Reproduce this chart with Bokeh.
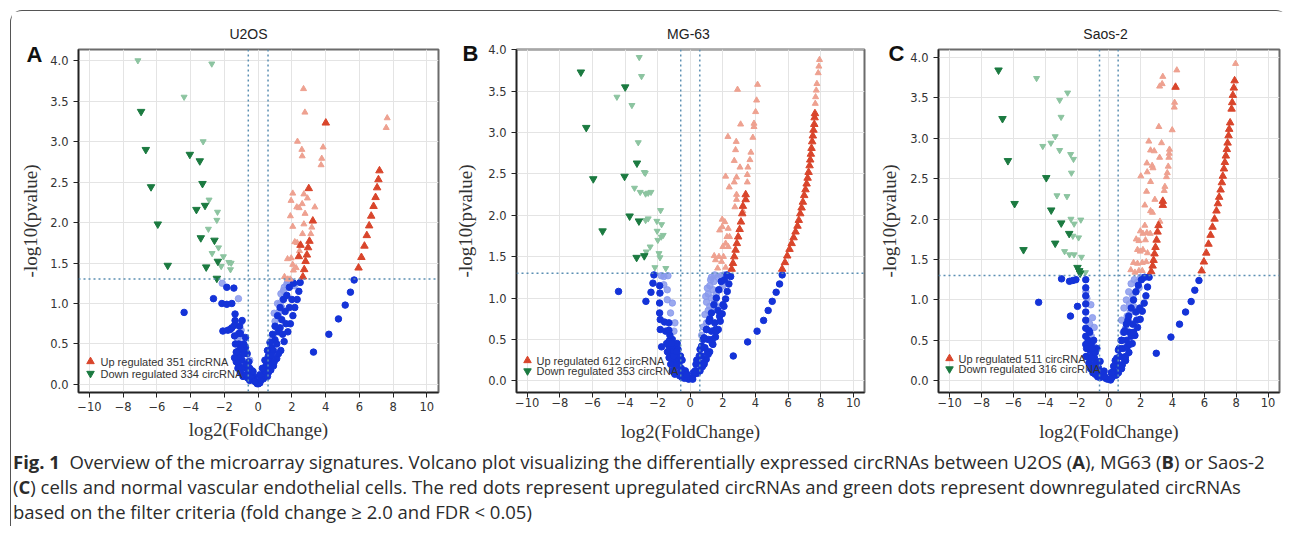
from bokeh.plotting import figure
from bokeh.models import (Span, Label, FixedTicker, PrintfTickFormatter, CustomJSTickFormatter,
                          Range1d, Div, LinearAxis)
from bokeh.layouts import row, column
from bokeh.embed import file_html
from bokeh.resources import INLINE

# ---------------- data: panel A (U2OS) ----------------
a_up_x = [5.95, 6.12, 6.30, 6.44, 6.58, 6.70, 6.84, 6.96, 7.05, 7.13, 7.19, 4.01, 3.00, 3.24, 2.51, 2.96, 2.89, 2.41, 2.81, 2.73, 2.65, 3.04]
a_up_y = [1.44, 1.57, 1.71, 1.84, 1.96, 2.08, 2.20, 2.31, 2.43, 2.53, 2.64, 3.23, 2.42, 2.02, 1.72, 1.69, 1.60, 1.58, 1.52, 1.42, 1.33, 1.77]
a_upf_x = [2.69, 2.77, 7.65, 7.59, 2.33, 2.59, 2.61, 3.85, 3.77, 3.73, 2.05, 2.71, 2.92, 1.95, 2.29, 2.43, 2.61, 3.36, 2.78, 1.91, 2.05, 2.71, 3.18, 2.63, 3.12, 2.17, 2.31, 2.45, 1.74, 1.96, 2.05, 2.25, 2.09, 1.56, 1.76, 1.90]
a_upf_y = [3.65, 3.36, 3.29, 3.17, 3.00, 2.90, 2.82, 2.93, 2.79, 2.71, 2.36, 2.35, 2.30, 2.27, 2.19, 2.18, 2.23, 2.19, 2.11, 2.08, 1.95, 1.98, 1.94, 1.86, 1.86, 1.76, 1.75, 1.65, 1.55, 1.56, 1.48, 1.44, 1.41, 1.33, 1.30, 1.30]
a_dn_x = [-6.94, -6.66, -6.35, -5.95, -5.36, -3.40, -3.08, -2.45, -3.15, -3.66, -4.05, -3.46, -3.30, -2.59, -2.39]
a_dn_y = [3.37, 2.90, 2.44, 1.98, 1.47, 1.81, 1.45, 1.31, 2.21, 2.16, 2.84, 2.76, 2.48, 1.78, 1.52]
a_dnf_x = [-7.13, -2.75, -4.39, -3.26, -2.91, -2.41, -2.45, -2.95, -2.35, -2.73, -2.06, -1.74, -1.60, -2.19, -1.64]
a_dnf_y = [4.00, 3.96, 3.55, 3.00, 2.28, 2.13, 2.03, 1.92, 1.69, 1.62, 1.58, 1.51, 1.50, 1.46, 1.42]
a_ns_x = [5.69, 5.47, 5.16, 4.76, 4.19, 3.28,
          2.49, 2.41, 2.31, 2.17, 2.06, 1.91, 1.76, 1.54, 1.34, 1.10, 0.91, 0.61, 0.31, 0.02,
          1.60, 1.40, 1.20, 1.00, 0.80, 0.60, 0.50, 0.35, 0.20, 0.90, 0.70, 1.10, 1.30,
          -1.86, -1.44, -2.65, -2.15, -1.86, -1.56, -4.39, -1.37, -1.37, -1.40, -2.09, -1.80, -1.56, -1.65,
          -1.15, -1.15, -1.15, -1.15, -1.15, -0.75, -0.75, -0.65, -0.55, -0.36, -0.22, -0.06, -0.95, -0.85, -0.45, -1.05, -0.95, -1.25, -1.30,
          -0.30, -0.15, 0.10, 0.15, 0.25, 0.40, -0.50, -0.65, -0.85, 0.45, 0.65, 0.80,
          -1.40, -1.35, -1.30, -1.40, -1.20, -1.05, -0.90, -0.75, -0.62, -0.50, -0.40, -0.30, -0.20, -1.10, -1.00, -0.85, -0.70, -0.60,
          0.10, 0.25, 0.40, 0.55, 0.70, 0.85, 1.00, 1.15, 1.30, 1.50, 1.70, 1.85, 2.10, 0.55, 0.75, 0.95, 1.20, 1.45, 1.65, 1.85, 2.00]
a_ns_y = [1.29, 1.14, 0.98, 0.81, 0.62, 0.40,
          1.26, 1.15, 1.05, 0.95, 0.85, 0.75, 0.65, 0.53, 0.42, 0.32, 0.23, 0.15, 0.07, 0.01,
          0.90, 0.80, 0.65, 0.55, 0.45, 0.35, 0.25, 0.18, 0.10, 0.42, 0.30, 0.50, 0.70,
          1.20, 1.19, 1.06, 1.00, 0.99, 1.00, 0.89, 0.87, 0.79, 0.73, 0.66, 0.67, 0.70, 0.68,
          0.63, 0.50, 0.42, 0.34, 0.23, 0.58, 0.46, 0.38, 0.28, 0.17, 0.09, 0.01, 0.30, 0.21, 0.13, 0.63, 0.79, 0.40, 0.28,
          0.06, 0.03, 0.02, 0.05, 0.11, 0.14, 0.20, 0.24, 0.38, 0.22, 0.26, 0.36,
          0.60, 0.50, 0.40, 0.33, 0.20, 0.15, 0.10, 0.12, 0.08, 0.05, 0.10, 0.16, 0.04, 0.72, 0.45, 0.50, 0.25, 0.18,
          0.12, 0.20, 0.30, 0.42, 0.52, 0.62, 0.72, 0.85, 0.95, 1.05, 1.10, 1.20, 1.25, 0.10, 0.18, 0.28, 0.38, 0.62, 0.75, 0.95, 1.05]
a_nsf_x = [-2.13, -1.17, -1.01, -1.01, -1.20, -0.90, -0.70, -0.50, -1.05,
           1.30, 1.50, 1.70, 1.90, 1.60, 1.40, 1.20, 1.10, 0.90, 1.80, 2.00, 1.45, 1.25, 0.80, 1.00,
           1.55, 1.75, 2.15, 1.35, 1.15, 0.95]
a_nsf_y = [1.25, 1.06, 0.77, 0.67, 0.55, 0.50, 0.40, 0.30, 0.60,
           1.00, 1.16, 1.24, 1.28, 1.10, 0.95, 0.85, 0.70, 0.60, 1.20, 1.25, 1.05, 0.90, 0.55, 0.78,
           1.20, 1.28, 1.22, 1.12, 1.00, 0.88]

# ---------------- data: panel B (MG-63) ----------------
b_up_x = [5.64, 5.81, 5.95, 6.09, 6.22, 6.34, 6.46, 6.58, 6.66, 6.75, 6.83, 6.91, 6.99, 7.07, 7.14, 7.20, 7.26, 7.32, 7.36, 7.40, 7.44, 7.48, 7.52, 7.56, 7.61, 7.63, 7.65,
          2.54, 2.62, 2.70, 2.78, 2.86, 2.94, 3.03, 3.11, 3.19, 3.23, 3.40, 3.40]
b_up_y = [1.35, 1.43, 1.51, 1.59, 1.66, 1.73, 1.80, 1.87, 1.94, 2.02, 2.09, 2.16, 2.24, 2.31, 2.38, 2.45, 2.52, 2.60, 2.67, 2.74, 2.81, 2.89, 2.96, 3.03, 3.10, 3.18, 3.23,
          1.35, 1.42, 1.50, 1.58, 1.66, 1.74, 1.83, 1.92, 2.02, 2.11, 2.25, 2.19]
b_upf_x = [7.67, 7.69, 7.73, 7.77, 7.85, 7.89, 7.93,
           2.90, 4.13, 4.07, 4.01, 3.91, 3.91, 3.09, 2.31, 2.82, 3.84, 2.78, 3.72, 2.70, 3.66, 3.05, 3.54, 2.17, 2.84, 3.50, 2.70, 2.39, 3.50,
           2.84, 2.84, 2.74, 3.23, 1.96, 2.12, 1.96, 2.33, 1.80, 2.25, 2.41, 2.17, 2.00, 2.33, 1.47, 1.76, 1.55, 2.04, 1.92, 1.68, 2.17]
b_upf_y = [3.35, 3.43, 3.51, 3.59, 3.72, 3.80, 3.88,
           3.52, 3.58, 3.39, 3.25, 3.11, 3.07, 3.10, 2.95, 2.89, 2.94, 2.79, 2.76, 2.66, 2.67, 2.58, 2.58, 2.47, 2.46, 2.49, 2.40, 2.34, 2.40,
           2.25, 2.19, 2.10, 2.05, 1.95, 1.92, 1.86, 1.84, 1.82, 1.74, 1.74, 1.66, 1.62, 1.62, 1.51, 1.50, 1.46, 1.50, 1.44, 1.36, 1.37]
b_dn_x = [-6.71, -6.38, -5.95, -5.38, -3.99, -4.03, -3.72, -3.15, -2.82, -3.29, -3.27]
b_dn_y = [3.73, 3.06, 2.44, 1.81, 3.55, 2.47, 1.99, 1.93, 1.51, 1.49, 2.63]
b_dnf_x = [-3.13, -2.99, -4.50, -3.58, -3.19, -2.82, -2.76, -3.42, -3.07, -2.74, -2.58, -2.41, -1.82, -2.74, -2.58, -2.05, -1.76, -2.03, -1.78, -1.66, -1.99, -2.46, -2.70, -1.92, -1.86, -2.17, -1.50]
b_dnf_y = [3.91, 3.68, 3.43, 3.33, 2.88, 2.52, 2.51, 2.33, 2.28, 2.26, 2.27, 2.28, 2.06, 1.94, 1.96, 1.93, 1.89, 1.81, 1.74, 1.76, 1.70, 1.62, 1.56, 1.54, 1.49, 1.37, 1.36]
b_ns_x = [5.64, 5.48, 5.27, 5.03, 4.78, 4.50, 4.10, 3.52, 2.64,
          2.48, 2.37, 2.27, 2.17, 2.07, 1.96, 1.84, 1.72, 1.55, 1.39, 1.19, 0.98, 0.74, 0.43, 0.08,
          1.50, 1.30, 1.10, 0.90, 0.70, 0.50, 0.30, 1.70, 1.20, 1.00, 0.80, 0.60, 0.40,
          -4.40, -2.72, -2.41, -2.23, -2.29, -1.88, -1.86, -1.88, -1.88, -1.84, -1.58, -1.31, -1.84, -1.51, -1.31, -1.76, -1.31,
          -1.10, -1.00, -0.95, -0.85, -0.70, -0.55, -0.40, -0.25, -0.10, -1.20, -1.05, -0.90, -0.60, -0.75, -1.30,
          0.15, 0.25, 0.55, 0.85, 1.05, 1.35, 1.60, -0.30, -0.50, -0.80,
          -1.45, -1.40, -1.30, -1.20, -1.10, -0.95, -0.80, -0.65, -0.50, -0.35, -0.20, -1.25, -1.00, -0.85, -1.15,
          0.20, 0.35, 0.55, 0.70, 0.85, 1.00, 1.15, 1.30, 1.45, 1.60, 1.75, 1.90, 2.10, 2.25, 0.60, 0.85, 1.10, 1.35, 1.55, 1.80, 2.00]
b_ns_y = [1.28, 1.17, 1.07, 0.96, 0.85, 0.73, 0.60, 0.47, 0.30,
          1.26, 1.17, 1.08, 0.99, 0.90, 0.81, 0.72, 0.62, 0.53, 0.44, 0.35, 0.26, 0.17, 0.09, 0.03,
          0.70, 0.60, 0.50, 0.40, 0.30, 0.22, 0.12, 0.85, 0.75, 0.62, 0.50, 0.38, 0.25,
          1.08, 0.96, 1.07, 1.28, 1.18, 1.15, 1.06, 0.94, 0.82, 0.74, 0.71, 0.70, 0.62, 0.60, 0.61, 0.41, 0.42,
          0.50, 0.40, 0.30, 0.25, 0.20, 0.15, 0.10, 0.06, 0.02, 0.35, 0.22, 0.18, 0.30, 0.38, 0.48,
          0.02, 0.08, 0.12, 0.20, 0.35, 0.45, 0.60, 0.12, 0.25, 0.45,
          0.45, 0.35, 0.28, 0.20, 0.12, 0.08, 0.10, 0.06, 0.04, 0.03, 0.08, 0.55, 0.30, 0.35, 0.45,
          0.10, 0.20, 0.30, 0.42, 0.52, 0.62, 0.72, 0.82, 0.92, 1.00, 1.10, 1.20, 1.22, 1.28, 0.12, 0.22, 0.32, 0.50, 0.62, 0.78, 0.92]
b_nsf_x = [-1.78, -1.62, -1.37, -1.62, -1.41, -1.41, -1.10, -1.21, -0.94, -1.00,
           0.90, 1.00, 1.10, 1.20, 1.30, 1.50, 1.70, 1.90, 2.10, 1.40, 1.60, 1.80, 1.20, 1.40, 1.00, 0.80, 1.60, 1.30, 1.50, 2.00, 0.70, 1.10,
           1.05, 1.25, 0.95, 1.45]
b_nsf_y = [1.27, 1.26, 1.27, 1.16, 1.10, 0.98, 0.94, 0.82, 0.70, 0.60,
           0.80, 0.95, 1.05, 1.15, 1.25, 1.28, 1.25, 1.27, 1.28, 1.10, 1.05, 1.10, 0.90, 0.85, 0.70, 0.65, 0.90, 1.00, 0.95, 1.15, 0.55, 0.85,
           1.12, 1.22, 1.02, 1.20]

# ---------------- data: panel C (Saos-2) ----------------
c_up_x = [5.83, 5.97, 6.12, 6.26, 6.39, 6.51, 6.64, 6.76, 6.85, 6.93, 7.02, 7.10, 7.16, 7.23, 7.29, 7.35, 7.41, 7.46, 7.52, 7.56, 7.62, 7.71, 7.75, 7.79, 7.85, 7.90,
          2.66, 2.75, 2.81, 2.87, 2.93, 3.00, 3.06, 3.12, 4.19, 3.39, 3.39]
c_up_y = [1.36, 1.47, 1.58, 1.69, 1.80, 1.90, 2.00, 2.10, 2.19, 2.27, 2.36, 2.45, 2.53, 2.62, 2.70, 2.78, 2.86, 2.94, 3.03, 3.11, 3.19, 3.36, 3.44, 3.53, 3.62, 3.71,
          1.35, 1.42, 1.49, 1.57, 1.65, 1.74, 1.84, 1.92, 3.63, 2.22, 2.17]
c_upf_x = [7.96, 3.21, 3.39, 3.35, 3.19, 4.27, 4.13, 4.11, 3.98, 3.14, 2.51, 2.62, 2.85, 3.31, 3.81, 3.79, 3.77, 3.19, 2.39, 2.72, 2.77, 3.73, 2.41, 3.67, 3.62, 2.01, 2.62,
           3.52, 3.48, 2.37, 2.89, 2.26, 2.62, 2.74, 2.26, 1.98, 2.14, 2.39, 2.60, 1.72, 1.89, 2.30, 1.80, 1.97, 2.14, 2.43, 1.55, 1.80, 2.10, 2.35, 1.38, 1.64, 1.89, 2.10]
c_upf_y = [3.92, 1.97, 3.76, 3.67, 3.64, 3.84, 3.44, 3.38, 3.10, 3.14, 2.96, 2.85, 2.84, 2.94, 2.86, 2.81, 2.76, 2.76, 2.69, 2.66, 2.63, 2.65, 2.58, 2.57, 2.52, 2.53, 2.46,
           2.40, 2.35, 2.34, 2.24, 2.17, 2.10, 2.08, 1.92, 1.85, 1.82, 1.83, 1.82, 1.75, 1.73, 1.74, 1.62, 1.60, 1.62, 1.58, 1.46, 1.45, 1.46, 1.47, 1.37, 1.34, 1.36, 1.36]
c_dn_x = [-6.93, -6.68, -6.34, -5.92, -5.36, -3.93, -3.62, -2.99, -2.49, -3.37, -1.97, -1.86, -1.80]
c_dn_y = [3.84, 3.24, 2.72, 2.19, 1.62, 2.51, 2.11, 1.95, 1.82, 1.70, 1.40, 1.36, 1.33]
c_dnf_x = [-4.54, -2.59, -3.09, -3.00, -3.37, -3.64, -4.15, -3.09, -2.40, -2.22, -2.35, -3.26, -2.63, -2.38, -2.18, -1.76, -2.26, -1.90, -2.78, -2.47, -2.18, -1.72, -1.47]
c_dnf_y = [3.74, 3.56, 3.47, 3.26, 3.02, 2.94, 2.90, 2.85, 2.80, 2.74, 2.57, 2.29, 2.28, 2.00, 1.94, 1.99, 1.79, 1.77, 1.60, 1.56, 1.56, 1.53, 1.34]
c_ns_x = [5.66, 5.40, 5.17, 4.82, 4.44, 3.90, 2.98,
          2.53, 2.43, 2.33, 2.22, 2.10, 1.97, 1.80, 1.64, 1.47, 1.26, 1.05, 0.80, 0.46, 0.11,
          1.50, 1.30, 1.10, 0.90, 0.70, 0.50, 0.30, 1.70, 1.20, 1.00, 0.80, 0.60, 0.40,
          -2.97, -2.47, -2.26, -2.07, -4.41, -2.41, -1.97, -1.45, -1.45, -1.45, -1.45, -1.45, -1.45, -1.45, -1.45, -1.45, -1.44,
          -1.10, -1.00, -0.90, -0.80, -0.65, -0.50, -0.35, -0.20, -0.08, -1.20, -1.30, -1.25, -0.95, -0.75,
          0.20, 0.35, 0.65, 0.95, 1.15, 1.40, -0.30, -0.55, -0.85,
          -1.40, -1.35, -1.25, -1.15, -1.00, -0.85, -0.70, -0.55, -0.40, -0.25, -1.10, -0.95, -0.80, -1.20, -1.05,
          0.15, 0.30, 0.50, 0.65, 0.80, 0.95, 1.10, 1.25, 1.40, 1.55, 1.70, 1.85, 2.05, 2.25, 0.60, 0.85, 1.05, 1.30, 1.55, 1.75, 1.95]
c_ns_y = [1.24, 1.12, 0.98, 0.85, 0.70, 0.54, 0.34,
          1.28, 1.16, 1.05, 0.96, 0.86, 0.76, 0.66, 0.56, 0.46, 0.35, 0.25, 0.15, 0.07, 0.01,
          0.70, 0.60, 0.50, 0.40, 0.30, 0.22, 0.12, 0.85, 0.75, 0.62, 0.50, 0.38, 0.25,
          1.26, 1.23, 1.24, 1.25, 0.97, 0.80, 0.92, 1.25, 1.15, 1.05, 0.95, 0.85, 0.75, 0.65, 0.55, 0.45, 0.30,
          0.45, 0.35, 0.28, 0.22, 0.16, 0.11, 0.07, 0.03, 0.02, 0.38, 0.50, 0.62, 0.50, 0.40,
          0.04, 0.08, 0.18, 0.28, 0.42, 0.55, 0.12, 0.24, 0.35,
          0.40, 0.30, 0.22, 0.15, 0.10, 0.08, 0.05, 0.04, 0.10, 0.05, 0.28, 0.20, 0.15, 0.60, 0.40,
          0.10, 0.18, 0.28, 0.40, 0.50, 0.60, 0.70, 0.80, 0.90, 1.00, 1.10, 1.18, 1.25, 1.28, 0.10, 0.20, 0.30, 0.45, 0.60, 0.75, 0.90]
c_nsf_x = [-1.44, -1.38, -1.13, -1.03, -0.92, -0.92, -1.20, -1.10,
           0.80, 0.95, 1.10, 1.25, 1.40, 1.60, 1.80, 2.00, 1.30, 1.50, 1.70, 1.15, 1.35, 0.90, 0.75, 1.55, 1.90, 1.05]
c_nsf_y = [1.10, 1.02, 0.94, 0.78, 0.66, 0.42, 0.70, 0.55,
           0.75, 0.90, 1.00, 1.10, 1.20, 1.25, 1.22, 1.28, 0.95, 1.05, 1.10, 0.80, 0.85, 0.60, 0.50, 0.92, 1.15, 0.65]

titles = ["U2OS", "MG-63", "Saos-2"]
letters = ["A", "B", "C"]
up_counts = [351, 612, 511]
down_counts = [334, 353, 316]
x_ticks = [-10, -8, -6, -4, -2, 0, 2, 4, 6, 8, 10]
y_ticks = [0.0, 0.5, 1.0, 1.5, 2.0, 2.5, 3.0, 3.5, 4.0]
fc_cut = 0.585
p_cut = 1.301

RED, RED_F = "#d9452b", "#eea190"
GREEN, GREEN_F = "#1b7a40", "#8cc4a0"
BLUE, BLUE_F = "#1433d8", "#8a9aec"
DOT = "#5b8fb3"

# layout geometry (page pixels; layout content starts at x=11, y=11).
# Frames in one row share top (49) and bottom (392).
FT, FB = 49, 392
panels = [
    dict(w=435, bl=67, br=8, fx0=78, fx1=438,
         xr=(-10.65, 10.69), yr=(-0.0988, 4.136), title=(248, 33), letter=(35, 54), lstand=-25,
         leg=(90, 361, 12, 100), xts=4, xls=5, yls=6),
    dict(w=422, bl=70, br=4, fx0=516, fx1=864,
         xr=(-10.66, 10.69), yr=(-0.1414, 4.0036), title=(688, 33), letter=(470, 53), lstand=-26,
         leg=(527, 360, 10.5, 536), xts=0, xls=11, yls=9),
    dict(w=420, bl=70, br=9, fx0=938, fx1=1279,
         xr=(-10.70, 10.72), yr=(-0.1446, 4.0952), title=(1105, 33), letter=(897, 53), lstand=-28,
         leg=(949, 358, 10.5, 958), xts=0, xls=11, yls=7),
]
H, BT, BB = 434, FT - 11, 445 - FB

data = [
    (a_up_x, a_up_y, a_upf_x, a_upf_y, a_dn_x, a_dn_y, a_dnf_x, a_dnf_y, a_ns_x, a_ns_y, a_nsf_x, a_nsf_y),
    (b_up_x, b_up_y, b_upf_x, b_upf_y, b_dn_x, b_dn_y, b_dnf_x, b_dnf_y, b_ns_x, b_ns_y, b_nsf_x, b_nsf_y),
    (c_up_x, c_up_y, c_upf_x, c_upf_y, c_dn_x, c_dn_y, c_dnf_x, c_dnf_y, c_ns_x, c_ns_y, c_nsf_x, c_nsf_y),
]


def text_axis(tick, text, **kw):
    ax = LinearAxis(ticker=FixedTicker(ticks=[tick]),
                    formatter=CustomJSTickFormatter(code="return %r;" % text))
    ax.axis_line_color = None
    ax.major_tick_line_color = None
    ax.minor_tick_line_color = None
    ax.major_tick_in = 0
    ax.major_tick_out = 0
    for k, v in kw.items():
        setattr(ax, k, v)
    return ax


def make_panel(i):
    g = panels[i]
    upx, upy, upfx, upfy, dnx, dny, dnfx, dnfy, nsx, nsy, nsfx, nsfy = data[i]

    def px2d(px, py):
        x = g["xr"][0] + (px - g["fx0"]) / (g["fx1"] - g["fx0"]) * (g["xr"][1] - g["xr"][0])
        y = g["yr"][1] - (py - FT) / (FB - FT) * (g["yr"][1] - g["yr"][0])
        return x, y

    p = figure(width=g["w"], height=H, output_backend="svg", toolbar_location=None,
               x_range=Range1d(*g["xr"]), y_range=Range1d(*g["yr"]),
               min_border_left=g["bl"], min_border_right=g["br"],
               min_border_top=BT, min_border_bottom=BB)
    p.background_fill_color = "white"
    p.border_fill_color = "white"
    p.outline_line_color = "#6b6b6b"
    p.outline_line_width = 2

    p.grid.grid_line_color = "#e4e4e4"
    p.grid.grid_line_width = 1

    xa, ya = p.xaxis[0], p.yaxis[0]
    xa.ticker = FixedTicker(ticks=x_ticks)
    xa.formatter = CustomJSTickFormatter(code="return tick < 0 ? '\u2212' + Math.abs(tick) : String(tick);")
    ya.ticker = FixedTicker(ticks=y_ticks)
    ya.formatter = PrintfTickFormatter(format="%.1f")
    p.xgrid.ticker = FixedTicker(ticks=x_ticks)
    p.ygrid.ticker = FixedTicker(ticks=y_ticks)
    for ax in (xa, ya):
        ax.minor_tick_line_color = None
        ax.major_tick_in = 0
        ax.major_tick_out = 5
        ax.axis_line_color = "#222222"
        ax.axis_line_width = 1.5
        ax.major_tick_line_color = "#222222"
        ax.major_label_text_font = "DejaVu Sans"
        ax.major_label_text_font_size = "11.5px"
        ax.major_label_text_color = "#333333"
        ax.axis_label_text_font = "Liberation Serif"
        ax.axis_label_text_font_size = "19px"
        ax.axis_label_text_font_style = "normal"
        ax.axis_label_text_color = "#333333"
    xa.axis_label = "log2(FoldChange)"
    ya.axis_label = "-log10(pvalue)"
    xa.major_label_standoff = g["xts"]
    ya.major_label_standoff = 5
    xa.axis_label_standoff = g["xls"]
    ya.axis_label_standoff = g["yls"]

    # panel title (above) and panel letter (left), drawn as single-tick axes
    tx_, _ = px2d(*g["title"])
    p.add_layout(text_axis(tx_, titles[i], major_label_standoff=FT - g["title"][1] - 8,
                           major_label_text_font="Liberation Sans", major_label_text_font_size="14px",
                           major_label_text_color="#222222"), "above")
    _, ly_ = px2d(*g["letter"])
    p.add_layout(text_axis(ly_, letters[i], major_label_standoff=g["lstand"],
                           major_label_text_font="Liberation Sans", major_label_text_font_size="22px",
                           major_label_text_font_style="bold", major_label_text_color="#111111"), "left")

    for loc, dim in ((-fc_cut, "height"), (fc_cut, "height"), (p_cut, "width")):
        p.add_layout(Span(location=loc, dimension=dim, line_color=DOT, line_width=1.5, line_dash="2 3"))

    # points
    p.scatter(nsfx, nsfy, marker="circle", size=6.5, fill_color=BLUE_F, line_color=BLUE_F, alpha=0.85)
    p.scatter(nsx, nsy, marker="circle", size=6.5, fill_color=BLUE, line_color=BLUE)
    p.scatter(upfx, upfy, marker="triangle", size=6, fill_color=RED_F, line_color=RED_F)
    p.scatter(upx, upy, marker="triangle", size=7.5, fill_color=RED, line_color=RED)
    p.scatter(dnfx, dnfy, marker="inverted_triangle", size=6, fill_color=GREEN_F, line_color=GREEN_F)
    p.scatter(dnx, dny, marker="inverted_triangle", size=7.5, fill_color=GREEN, line_color=GREEN)

    # legend (drawn in the frame)
    lx, ly, dy, tx = g["leg"]
    mx1, my1 = px2d(lx, ly)
    mx2, my2 = px2d(lx, ly + dy)
    p.scatter([mx1], [my1], marker="triangle", size=7.5, fill_color=RED, line_color=RED)
    p.scatter([mx2], [my2], marker="inverted_triangle", size=7.5, fill_color=GREEN, line_color=GREEN)
    t1x, t1y = px2d(tx, ly)
    t2x, t2y = px2d(tx, ly + dy)
    for (xx, yy, txt) in ((t1x, t1y, "Up regulated %d circRNA" % up_counts[i]),
                          (t2x, t2y, "Down regulated %d circRNA" % down_counts[i])):
        p.add_layout(Label(x=xx, y=yy, text=txt, text_font="Liberation Sans", text_font_size="11px",
                           text_color="#333333", text_align="left", text_baseline="middle"))
    return p


figs = [make_panel(i) for i in range(3)]

caption = Div(
    text=('<div style="font-family: \'Open Sans\', sans-serif; font-size: 18.5px; line-height: 25px; '
          'color: #2b2b2b; padding: 4px 0 0 2px; white-space: nowrap;">'
          '<b>Fig. 1</b>&nbsp; Overview of the microarray signatures. Volcano plot visualizing the differentially '
          'expressed circRNAs between U2OS (<b>A</b>), MG63 (<b>B</b>) or Saos-2<br>'
          '(<b>C</b>) cells and normal vascular endothelial cells. The red dots represent upregulated circRNAs '
          'and green dots represent downregulated circRNAs<br>'
          'based on the filter criteria (fold change &ge; 2.0 and FDR &lt; 0.05)</div>'),
    width=1277, height=81, margin=(0, 0, 0, 0))

layout = column(row(*figs, spacing=0), caption, spacing=0, margin=(10, 0, 0, 10),
                styles={"border-top": "1px solid #555555", "border-left": "1px solid #555555",
                        "border-top-left-radius": "12px", "border-top-right-radius": "12px"})

open("out.html", "w").write(file_html(layout, INLINE))
